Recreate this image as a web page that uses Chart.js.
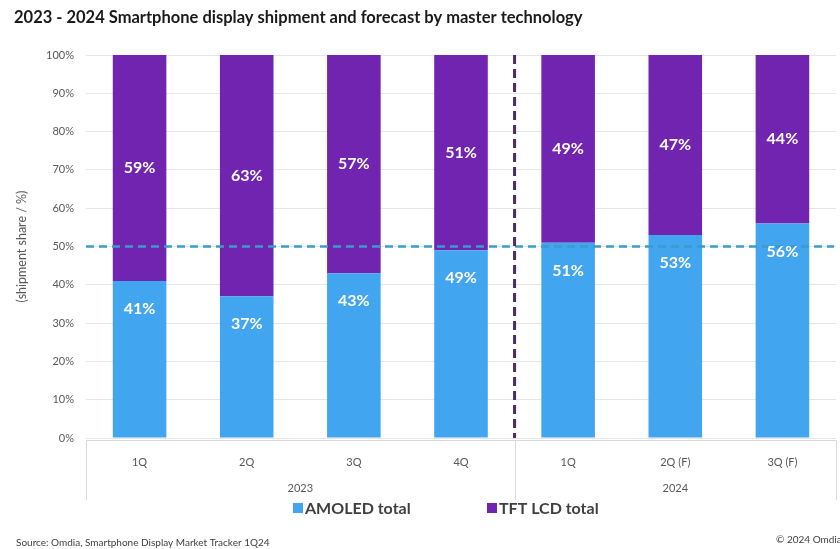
<!DOCTYPE html>
<html>
<head>
<meta charset="utf-8">
<script src="https://cdn.jsdelivr.net/npm/chart.js@4"></script>
<style>
  html, body { margin: 0; padding: 0; background: #fff; }
  #wrap { width: 840px; height: 549px; position: relative; }
</style>
</head>
<body>
<div id="wrap"><canvas id="chart"></canvas></div>
<script>
const quarters = ["1Q", "2Q", "3Q", "4Q", "1Q", "2Q (F)", "3Q (F)"];
const years = ["2023", "2024"];
const quartersPerYear = [4, 3];
const amoledShare = [41, 37, 43, 49, 51, 53, 56];
const tftLcdShare = [59, 63, 57, 51, 49, 47, 44];
const halfLine = 50;

const titleText = "2023 - 2024 Smartphone display shipment and forecast by master technology";
const sourceText = "Source: Omdia, Smartphone Display Market Tracker 1Q24";
const copyrightText = "\u00a9 2024 Omdia";

const FONT = "Lato, 'Open Sans', sans-serif";
const AMOLED_COLOR = "#42a5f0";
const TFT_COLOR = "#7024b0";

const extras = {
  id: "extras",
  afterDatasetsDraw(chart) {
    const { ctx, chartArea: area, scales: { x, y } } = chart;
    ctx.save();

    // dashed 50% line
    const y50 = y.getPixelForValue(halfLine);
    ctx.strokeStyle = "#3a9cc8";
    ctx.lineWidth = 2.5;
    ctx.setLineDash([8, 5]);
    ctx.beginPath();
    ctx.moveTo(area.left, y50);
    ctx.lineTo(area.right - 2, y50);
    ctx.stroke();

    // dashed split between actual years
    const split = (x.getPixelForValue(quartersPerYear[0] - 1) + x.getPixelForValue(quartersPerYear[0])) / 2;
    ctx.strokeStyle = "#4b2a6b";
    ctx.lineWidth = 3;
    ctx.setLineDash([9, 5]);
    ctx.beginPath();
    ctx.moveTo(split, area.top);
    ctx.lineTo(split, area.bottom);
    ctx.stroke();
    ctx.setLineDash([]);

    // value labels
    ctx.fillStyle = "#ffffff";
    ctx.font = "bold 16px " + FONT;
    ctx.textAlign = "center";
    ctx.textBaseline = "middle";
    chart.data.datasets.forEach((ds, di) => {
      chart.getDatasetMeta(di).data.forEach((bar, i) => {
        const ty = di === 0 ? bar.y + 28 : (bar.y + bar.base) / 2;
        ctx.fillText(ds.data[i] + "%", bar.x, ty);
      });
    });
    ctx.restore();
  },
  afterDraw(chart) {
    const { ctx, chartArea: area, scales: { x } } = chart;
    ctx.save();

    // title
    ctx.fillStyle = "#1a1a1a";
    ctx.font = "bold 16.5px " + FONT;
    ctx.textBaseline = "middle";
    ctx.textAlign = "left";
    ctx.fillText(titleText, 14, 18);

    // category box under the axis
    const boxBottom = area.bottom + 62;
    ctx.strokeStyle = "#d9d9d9";
    ctx.lineWidth = 1;
    ctx.beginPath();
    ctx.moveTo(x.left, area.bottom + 2.5);
    ctx.lineTo(x.right, area.bottom + 2.5);
    let start = 0;
    const edges = [x.left];
    quartersPerYear.forEach(n => {
      const last = start + n - 1;
      const edge = last < quarters.length - 1
        ? (x.getPixelForValue(last) + x.getPixelForValue(last + 1)) / 2
        : x.right;
      edges.push(edge);
      start += n;
    });
    edges.forEach(e => {
      ctx.moveTo(Math.round(e) + 0.5, area.bottom + 2.5);
      ctx.lineTo(Math.round(e) + 0.5, boxBottom);
    });
    ctx.stroke();

    // year labels
    ctx.fillStyle = "#595959";
    ctx.font = "11px " + FONT;
    ctx.textAlign = "center";
    years.forEach((yr, i) => {
      ctx.fillText(yr, (edges[i] + edges[i + 1]) / 2, area.bottom + 50);
    });

    // legend
    const legendX = [293, 487];
    ctx.font = "bold 16px " + FONT;
    ctx.textAlign = "left";
    chart.data.datasets.forEach((ds, i) => {
      ctx.fillStyle = ds.backgroundColor;
      ctx.fillRect(legendX[i], 503, 10, 10);
      ctx.fillStyle = "#404040";
      ctx.fillText(ds.label, legendX[i] + 12, 509);
    });

    // source + copyright
    ctx.font = "10px " + FONT;
    ctx.fillStyle = "#404040";
    ctx.fillText(sourceText, 16, 543);
    ctx.fillText(copyrightText, 776, 540);
    ctx.restore();
  }
};

new Chart(document.getElementById("chart"), {
  type: "bar",
  data: {
    labels: quarters,
    datasets: [
      { label: "AMOLED total", data: amoledShare, backgroundColor: AMOLED_COLOR },
      { label: "TFT LCD total", data: tftLcdShare, backgroundColor: TFT_COLOR }
    ]
  },
  options: {
    responsive: true,
    maintainAspectRatio: false,
    animation: false,
    datasets: { bar: { barPercentage: 0.5, categoryPercentage: 1 } },
    layout: { padding: { top: 55, bottom: 49, left: 14, right: 4 } },
    plugins: { legend: { display: false }, tooltip: { enabled: false } },
    scales: {
      x: {
        stacked: true,
        grid: { display: false, drawTicks: false },
        border: { display: false },
        ticks: { font: { family: FONT, size: 11 }, color: "#595959", padding: 18 },
        afterFit: scale => { scale.height = 62; }
      },
      y: {
        stacked: true,
        min: 0,
        max: 100,
        grid: { color: "#e6e6e6", drawTicks: false },
        border: { display: false },
        ticks: {
          stepSize: 10,
          padding: 12,
          font: { family: FONT, size: 11 },
          color: "#595959",
          callback: v => v + "%"
        },
        title: {
          display: true,
          text: "(shipment share / %)",
          font: { family: FONT, size: 12.5 },
          color: "#595959",
          padding: { top: 0, bottom: 6 }
        },
        afterFit: scale => { scale.width = 72; }
      }
    }
  },
  plugins: [extras]
});
</script>
</body>
</html>
